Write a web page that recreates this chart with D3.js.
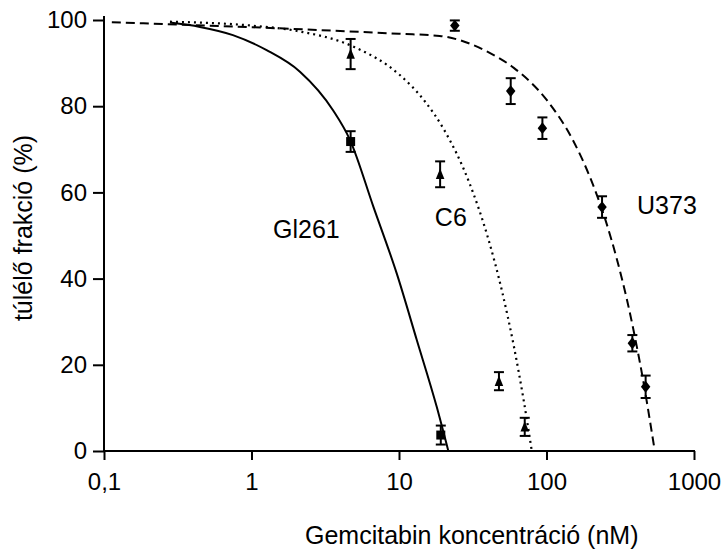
<!DOCTYPE html>
<html>
<head>
<meta charset="utf-8">
<script src="https://cdn.jsdelivr.net/npm/d3@7"></script>
<style>
  html, body { margin: 0; padding: 0; background: #fff; }
  svg { display: block; }
  text { font-family: "Liberation Sans", Arial, Helvetica, sans-serif; fill: #000; }
</style>
</head>
<body>
<svg id="chart" width="725" height="553"></svg>
<script>
// ---------- data ----------
const xTicks = [0.1, 1, 10, 100, 1000];
const xTickLabels = ["0,1", "1", "10", "100", "1000"];
const yTicks = [0, 20, 40, 60, 80, 100];

const seriesNames = ["Gl261", "C6", "U373"];

// measured points (mean ± error)
const gl261X = [4.7, 19.2];
const gl261Y = [71.8, 3.7];
const gl261Err = [2.4, 2.2];

const c6X = [4.7, 19.0, 47.6, 71.2];
const c6Y = [92.1, 64.2, 16.2, 5.6];
const c6Err = [3.5, 3.0, 2.1, 2.1];

const u373X = [23.9, 57.2, 93.8, 238, 382, 470];
const u373Y = [98.7, 83.5, 74.9, 56.6, 25.0, 14.9];
const u373Err = [1.2, 3.0, 2.5, 2.5, 1.9, 2.6];

// fitted curves
const gl261CurveX = [0.28, 0.447, 0.748, 1.266, 2.13, 3.58, 4.65, 6.70, 9.65, 13.2, 18.0, 21.6];
const gl261CurveY = [99.4, 98.4, 96.5, 93.0, 88.0, 79.0, 72.2, 56.7, 41.2, 25.75, 10.3, 0];

const c6CurveX = [0.28, 1, 2, 5, 10, 15, 20, 30, 40, 50, 60, 70, 79.5];
const c6CurveY = [99.6, 98.7, 97.5, 93.7, 87.4, 81.1, 74.8, 62.2, 49.6, 37.0, 24.4, 11.8, 0];

const u373CurveX = [0.113, 10, 18.9, 40, 60, 100, 150, 200, 250, 300, 350, 400, 450, 500, 542];
const u373CurveY = [99.5, 96.8, 96.3, 92.6, 88.9, 81.5, 72.3, 63.0, 53.8, 44.5, 35.3, 26.0, 16.8, 7.5, 0];

// label anchor positions (data coordinates)
const labelX = [1.40, 17.5, 411];
const labelY = [49.4, 52.1, 55.1];

// ---------- chart ----------
const svg = d3.select("#chart");
svg.append("rect").attr("width", 725).attr("height", 553).attr("fill", "#fff");

const x = d3.scaleLog().domain([0.1, 1000]).range([104, 694]);
const y = d3.scaleLinear().domain([0, 100]).range([451, 20]);

// axes
const yAxis = d3.axisLeft(y).tickValues(yTicks).tickSize(11).tickPadding(6).tickSizeOuter(0);
const xAxis = d3.axisBottom(x).tickValues(xTicks).tickFormat((d, i) => xTickLabels[i])
  .tickSize(9).tickPadding(13).tickSizeOuter(0);

const gy = svg.append("g").attr("transform", "translate(104,0)").call(yAxis);
const gx = svg.append("g").attr("transform", "translate(0,451)").call(xAxis);
[gx, gy].forEach(g => {
  g.attr("font-size", null).attr("font-family", null);
  g.select(".domain").remove();
  g.selectAll(".tick line").attr("stroke", "#000").attr("stroke-width", 2);
  g.selectAll(".tick text").style("font-size", "24px").attr("fill", "#000");
});
svg.append("line").attr("x1", 104).attr("x2", 104).attr("y1", 16).attr("y2", 452)
  .attr("stroke", "#000").attr("stroke-width", 2);
svg.append("line").attr("x1", 103).attr("x2", 695).attr("y1", 451).attr("y2", 451)
  .attr("stroke", "#000").attr("stroke-width", 2);

// axis titles
svg.append("text").attr("x", 305).attr("y", 544).style("font-size", "25px")
  .text("Gemcitabin koncentráció (nM)");
svg.append("text").attr("transform", "translate(32,228) rotate(-90)")
  .attr("text-anchor", "middle").style("font-size", "25px")
  .text("túlélő frakció (%)");

// curves
const line = d3.line().x(d => x(d[0])).y(d => y(d[1])).curve(d3.curveMonotoneX);
const zip = (a, b) => a.map((v, i) => [v, b[i]]);

svg.append("path").datum(zip(gl261CurveX, gl261CurveY)).attr("d", line)
  .attr("fill", "none").attr("stroke", "#000").attr("stroke-width", 2);
svg.append("path").datum(zip(c6CurveX, c6CurveY)).attr("d", line)
  .attr("fill", "none").attr("stroke", "#000").attr("stroke-width", 2.2)
  .attr("stroke-dasharray", "2,4");
svg.append("path").datum(zip(u373CurveX, u373CurveY)).attr("d", line)
  .attr("fill", "none").attr("stroke", "#000").attr("stroke-width", 2)
  .attr("stroke-dasharray", "9,5");

// markers
const squareSym = { draw(ctx, s) { const h = Math.sqrt(s) / 2; ctx.rect(-h, -h, 2 * h, 2 * h); } };
const triSym = { draw(ctx, s) { const h = Math.sqrt(s) / 2; ctx.moveTo(0, -h * 1.2); ctx.lineTo(h * 0.9, h); ctx.lineTo(-h * 0.9, h); ctx.closePath(); } };
const diaSym = { draw(ctx, s) { const h = Math.sqrt(s) / 2; ctx.moveTo(0, -h * 1.25); ctx.lineTo(h, 0); ctx.lineTo(0, h * 1.25); ctx.lineTo(-h, 0); ctx.closePath(); } };

function drawSeries(xs, ys, errs, sym, size) {
  const g = svg.append("g");
  const data = xs.map((v, i) => ({ x: v, y: ys[i], e: errs[i] }));
  const eb = g.selectAll("g.eb").data(data).join("g").attr("class", "eb");
  eb.append("line").attr("x1", d => x(d.x)).attr("x2", d => x(d.x))
    .attr("y1", d => y(d.y + d.e)).attr("y2", d => y(d.y - d.e))
    .attr("stroke", "#000").attr("stroke-width", 2);
  eb.append("line").attr("x1", d => x(d.x) - 5).attr("x2", d => x(d.x) + 5)
    .attr("y1", d => y(d.y + d.e)).attr("y2", d => y(d.y + d.e))
    .attr("stroke", "#000").attr("stroke-width", 2);
  eb.append("line").attr("x1", d => x(d.x) - 5).attr("x2", d => x(d.x) + 5)
    .attr("y1", d => y(d.y - d.e)).attr("y2", d => y(d.y - d.e))
    .attr("stroke", "#000").attr("stroke-width", 2);
  g.selectAll("path.m").data(data).join("path").attr("class", "m")
    .attr("transform", d => `translate(${x(d.x)},${y(d.y)})`)
    .attr("d", d3.symbol().type(sym).size(size)).attr("fill", "#000");
}
drawSeries(gl261X, gl261Y, gl261Err, squareSym, 81);
drawSeries(c6X, c6Y, c6Err, triSym, 90);
drawSeries(u373X, u373Y, u373Err, diaSym, 90);

// series labels
svg.selectAll("text.lab").data(seriesNames).join("text").attr("class", "lab")
  .attr("x", (d, i) => x(labelX[i])).attr("y", (d, i) => y(labelY[i]))
  .style("font-size", "25px").text(d => d);
</script>
</body>
</html>
